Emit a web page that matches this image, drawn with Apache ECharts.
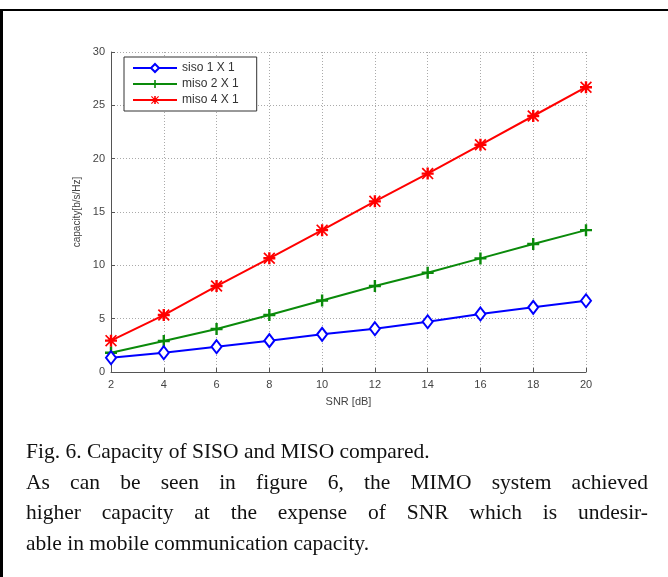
<!DOCTYPE html>
<html>
<head>
<meta charset="utf-8">
<script src="https://cdn.jsdelivr.net/npm/echarts@6/dist/echarts.min.js"></script>
<style>
html,body{margin:0;padding:0;background:#fff;}
#wrap{position:relative;width:668px;height:577px;overflow:hidden;}
#chart{position:absolute;left:0;top:0;width:668px;height:577px;}
#frameTop{position:absolute;left:0;top:9px;width:668px;height:2px;background:#000;}
#frameLeft{position:absolute;left:0;top:9px;width:3px;height:568px;background:#000;}
.cap{position:absolute;left:26px;width:622px;font-family:"Liberation Serif","Times New Roman",serif;font-size:21.5px;color:#111;white-space:nowrap;line-height:30px;}
.just{text-align:justify;text-align-last:justify;}
</style>
</head>
<body>
<div id="wrap">
<div id="chart"></div>
<div id="frameTop"></div>
<div id="frameLeft"></div>
<div class="cap" style="top:436px;">Fig. 6. Capacity of SISO and MISO compared.</div>
<div class="cap just" style="top:467px;">As can be seen in figure 6, the MIMO system achieved</div>
<div class="cap just" style="top:497px;">higher capacity at the expense of SNR which is undesir-</div>
<div class="cap" style="top:528px;">able in mobile communication capacity.</div>
</div>
<script>
var snr = [2, 4, 6, 8, 10, 12, 14, 16, 18, 20];
var siso = [1.34, 1.81, 2.37, 2.94, 3.53, 4.06, 4.71, 5.44, 6.06, 6.68];
var miso2 = [1.8, 2.9, 4.03, 5.34, 6.7, 8.06, 9.3, 10.65, 12.0, 13.3];
var miso4 = [2.94, 5.34, 8.06, 10.66, 13.3, 16.0, 18.6, 21.3, 24.0, 26.7];
var seriesNames = ['siso 1 X 1', 'miso 2 X 1', 'miso 4 X 1'];
var yTicks = [0, 5, 10, 15, 20, 25, 30];

function pairs(ys){ return snr.map(function(x,i){ return [x, ys[i]]; }); }

var plusPath = 'path://M4,0H6V4H10V6H6V10H4V6H0V4H4Z';
var starPath = 'path://M4,0H6V4H10V6H6V10H4V6H0V4H4Z M1,0L5,4L9,0L10,1L6,5L10,9L9,10L5,6L1,10L0,9L4,5L0,1Z';

var chart = echarts.init(document.getElementById('chart'), null, {renderer:'canvas'});
var axisColor = '#555';
chart.setOption({
  animation:false,
  backgroundColor:'#fff',
  grid:{left:111, right:82, top:52, bottom:205, containLabel:false},
  legend:{
    orient:'vertical', left:124, top:57,
    data:seriesNames,
    itemWidth:44, itemHeight:10, itemGap:4,
    padding:[5,18,5,8],
    borderColor:'#333', borderWidth:1, backgroundColor:'#fff',
    textStyle:{fontFamily:'Liberation Sans, Arial', fontSize:12, color:'#333'}
  },
  xAxis:{
    type:'value', min:2, max:20, interval:2,
    name:'SNR [dB]', nameLocation:'middle', nameGap:24,
    nameTextStyle:{fontFamily:'Liberation Sans, Arial', fontSize:11, color:'#444'},
    axisLine:{lineStyle:{color:axisColor, width:1}},
    axisTick:{inside:true, length:4, lineStyle:{color:axisColor}},
    axisLabel:{fontFamily:'Liberation Sans, Arial', fontSize:11, color:'#444', margin:7},
    splitLine:{show:true, lineStyle:{color:'#aaa', type:[1,2], width:1}}
  },
  yAxis:{
    type:'value', min:0, max:30, interval:5,
    name:'capacity[b/s/Hz]', nameLocation:'middle', nameGap:29, nameRotate:90,
    nameTextStyle:{fontFamily:'Liberation Sans, Arial', fontSize:10, color:'#444'},
    axisLine:{show:true, lineStyle:{color:axisColor, width:1}},
    axisTick:{show:true, inside:true, length:4, lineStyle:{color:axisColor}},
    axisLabel:{fontFamily:'Liberation Sans, Arial', fontSize:11, color:'#444', margin:6},
    splitLine:{show:true, lineStyle:{color:'#aaa', type:[1,2], width:1}}
  },
  series:[
    {name:seriesNames[0], type:'line', data:pairs(siso), color:'#0000ff',
     symbol:'emptyDiamond', symbolSize:[10,13], lineStyle:{width:2, color:'#0000ff'},
     itemStyle:{color:'#0000ff', borderWidth:2}, z:4},
    {name:seriesNames[1], type:'line', data:pairs(miso2), color:'#0a8a0a',
     symbol:plusPath, symbolSize:12, lineStyle:{width:2, color:'#0a8a0a'},
     itemStyle:{color:'#0a8a0a'}, z:3},
    {name:seriesNames[2], type:'line', data:pairs(miso4), color:'#ff0000',
     symbol:starPath, symbolSize:12, lineStyle:{width:2, color:'#ff0000'},
     itemStyle:{color:'#ff0000'}, z:2}
  ]
});
</script>
</body>
</html>
